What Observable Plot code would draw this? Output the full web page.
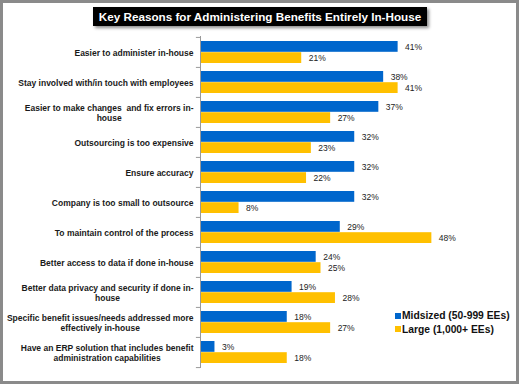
<!DOCTYPE html>
<html><head><meta charset="utf-8">
<script src="https://cdn.jsdelivr.net/npm/d3@7"></script>
<script src="https://cdn.jsdelivr.net/npm/@observablehq/plot@0.6"></script>
<style>
body{margin:0;background:#fff;font-family:"Liberation Sans",Arial,sans-serif}
#wrap{position:relative;width:519px;height:384px;overflow:hidden;background:#fff}
#chart{position:absolute;left:0;top:0}
#frame{position:absolute;left:0;top:0;width:519px;height:384px;box-sizing:border-box;border:3px solid #8a8a8a;pointer-events:none}
#title{position:absolute;left:93px;top:7px;width:334px;height:19px;background:#000;color:#fff;font-weight:bold;font-size:11.7px;line-height:19px;text-align:center;box-shadow:2px 2px 3px rgba(0,0,0,.45);white-space:nowrap}
#legend{position:absolute;left:395px;top:309px;font-weight:bold;font-size:10.3px;color:#111}
.item{display:flex;align-items:center;height:13.5px;white-space:nowrap}
.sw{width:6px;height:6px;margin-right:1px}
</style></head>
<body>
<div id="wrap">
  <div id="chart"></div>
  <div id="title"></div>
  <div id="legend"></div>
  <div id="frame"></div>
</div>
<script>
const titleText = "Key Reasons for Administering Benefits Entirely In-House";
const categories = [
  "Easier to administer in-house",
  "Stay involved with/in touch with employees",
  "Easier to make changes  and fix errors in-\nhouse",
  "Outsourcing is too expensive",
  "Ensure accuracy",
  "Company is too small to outsource",
  "To maintain control of the process",
  "Better access to data if done in-house",
  "Better data privacy and security if done in-\nhouse",
  "Specific benefit issues/needs addressed more\neffectively in-house",
  "Have an ERP solution that includes benefit\nadministration capabilities"
];
const midsized = [41, 38, 37, 32, 32, 32, 29, 24, 19, 18, 3];
const large = [21, 41, 27, 23, 22, 8, 48, 25, 28, 27, 18];
const seriesNames = ["Midsized (50-999 EEs)", "Large (1,000+ EEs)"];
const seriesColors = ["#0066CC", "#FFC000"];

const midRows = categories.map((c, i) => ({category: c, value: midsized[i]}));
const largeRows = categories.map((c, i) => ({category: c, value: large[i]}));

const axisColor = "#9a9a9a";
const plot = Plot.plot({
  width: 519, height: 384,
  marginLeft: 200, marginRight: 78, marginTop: 36, marginBottom: 16,
  style: {fontFamily: '"Liberation Sans", Arial, sans-serif', background: "transparent", color: "#222"},
  x: {domain: [0, 50], axis: null},
  y: {domain: categories, padding: 0, axis: null},
  marks: [
    Plot.barX(midRows, {x: "value", y: "category", fill: seriesColors[0], insetTop: 4, insetBottom: 15.2}),
    Plot.barX(largeRows, {x: "value", y: "category", fill: seriesColors[1], insetTop: 15.2, insetBottom: 4}),
    Plot.ruleX([0], {stroke: axisColor}),
    Plot.ruleY(categories, {y: d => d, x1: -0.85, x2: 0, dy: -15.09, stroke: axisColor}),
    Plot.ruleY(categories.slice(-1), {y: d => d, x1: -0.85, x2: 0, dy: 15.09, stroke: axisColor}),
    Plot.text(midRows, {x: "value", y: "category", text: d => d.value + "%", dx: 7, dy: -5.5, textAnchor: "start", fontSize: 8.5, fill: "#222"}),
    Plot.text(largeRows, {x: "value", y: "category", text: d => d.value + "%", dx: 7, dy: 5.6, textAnchor: "start", fontSize: 8.5, fill: "#222"}),
    Plot.text(categories, {y: d => d, text: d => d, frameAnchor: "left", textAnchor: "end", dx: -7, fontWeight: "bold", fontSize: 8.5, lineHeight: 1.18, fill: "#1a1a1a"})
  ]
});
document.getElementById("chart").appendChild(plot);

// center the lines of multi-line category labels within their block
plot.querySelectorAll("text").forEach(t => {
  const spans = t.querySelectorAll("tspan");
  if (spans.length < 2) return;
  const w = Math.max(...[...spans].map(s => s.getComputedTextLength()));
  t.setAttribute("text-anchor", "middle");
  spans.forEach(s => s.setAttribute("x", -w / 2));
});

document.getElementById("title").textContent = titleText;
const legend = document.getElementById("legend");
seriesNames.forEach((name, i) => {
  const item = document.createElement("div");
  item.className = "item";
  const sw = document.createElement("span");
  sw.className = "sw";
  sw.style.background = seriesColors[i];
  const label = document.createElement("span");
  label.textContent = name;
  item.appendChild(sw);
  item.appendChild(label);
  legend.appendChild(item);
});
</script>
</body></html>
